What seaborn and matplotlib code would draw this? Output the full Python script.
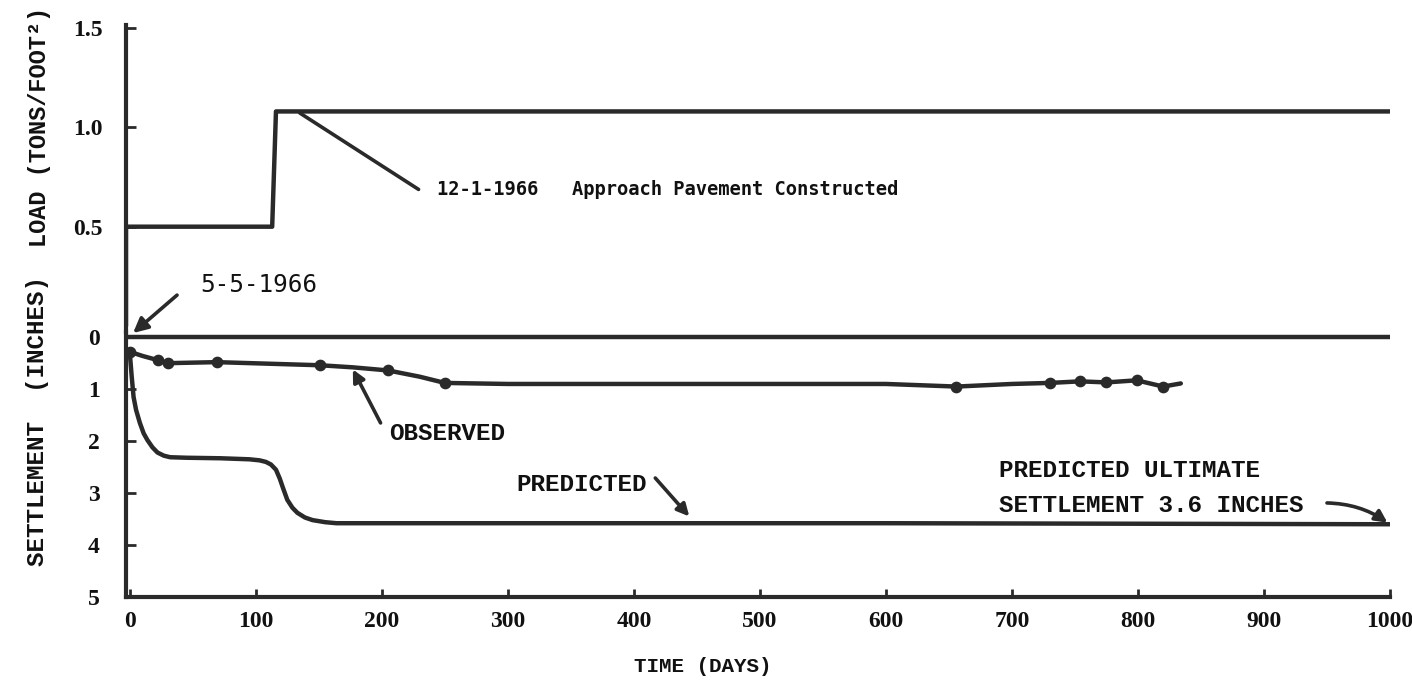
import matplotlib
matplotlib.use("Agg")
import matplotlib.pyplot as plt
import seaborn as sns
import pandas as pd

# Applied load history (tons / ft^2)
load_days = [-3, -3, 113, 116, 1000]
load_tsf = [0.0, 0.5, 0.5, 1.08, 1.08]

# Settlement datum
zero_days = [-3, 1000]
zero_settle = [0.0, 0.0]

# Observed settlement (inches)
obs_days = [0, 10, 22, 30, 69, 151, 177, 205, 230, 250, 300, 450, 600,
            656, 700, 730, 754, 775, 799, 820, 834]
obs_settle = [0.28, 0.36, 0.44, 0.50, 0.48, 0.54, 0.58, 0.64, 0.76, 0.88,
              0.90, 0.90, 0.90, 0.95, 0.90, 0.88, 0.85, 0.87, 0.83, 0.95, 0.89]
# days on which a survey reading was plotted as a dot
reading_days = [0, 22, 30, 69, 151, 205, 250, 656, 730, 754, 775, 799, 820]

# Predicted settlement (inches)
pred_days = [0, 1.5, 3, 5, 8, 11, 14, 18, 22, 27, 32, 45, 72, 95, 103, 108,
             112, 116, 119, 122, 125, 129, 133, 139, 145, 155, 164, 230, 600, 1000]
pred_settle = [0.30, 0.75, 1.15, 1.40, 1.65, 1.85, 1.98, 2.12, 2.22, 2.28,
               2.31, 2.32, 2.33, 2.35, 2.37, 2.40, 2.45, 2.55, 2.72, 2.93,
               3.13, 3.28, 3.38, 3.47, 3.52, 3.56, 3.58, 3.58, 3.58, 3.60]

x_ticks = [0, 100, 200, 300, 400, 500, 600, 700, 800, 900, 1000]
load_ticks = [0.5, 1.0, 1.5]
load_tick_labels = ["0.5", "1.0", "1.5"]
settle_ticks = [0, 1, 2, 3, 4, 5]
settle_tick_labels = ["0", "1", "2", "3", "4", "5"]

INK = "#2a2a2a"
TXT = "#111111"
TYPE = ["Liberation Mono", "DejaVu Sans Mono"]
SERIF = ["Liberation Serif", "DejaVu Serif"]
GOTHIC = ["DejaVu Sans Mono"]

sns.set_theme(style="ticks")
plt.rcParams["font.family"] = ["Liberation Mono", "DejaVu Sans"]

W, H = 1412, 680
fig = plt.figure(figsize=(W / 100, H / 100), dpi=100)


def box(left, top, right, bottom):
    return [left / W, 1 - bottom / H, (right - left) / W, (bottom - top) / H]


ax_load = fig.add_axes(box(126, 25, 1390, 332))
ax_set = fig.add_axes(box(126, 332, 1390, 597))

LW = 3.2
TICK_FS = 17

# ---- load panel ----
sns.lineplot(x=load_days, y=load_tsf, ax=ax_load, sort=False,
             estimator=None, color=INK, lw=LW)
ax_load.set_xlim(-3, 1000)
ax_load.set_ylim(-0.03, 1.515)
ax_load.set_xticks([])
ax_load.set_yticks(load_ticks)
ax_load.set_yticklabels(load_tick_labels, fontfamily=SERIF, fontweight="bold",
                        fontsize=TICK_FS, color=TXT)
for s in ["top", "right", "bottom"]:
    ax_load.spines[s].set_visible(False)
ax_load.spines["left"].set_linewidth(3)
ax_load.spines["left"].set_color(INK)
ax_load.tick_params(axis="y", direction="in", length=7, width=2,
                    color=INK, pad=17)
ax_load.set_xlabel("")
ax_load.set_ylabel("")
ax_load.patch.set_alpha(0)

# ---- settlement panel ----
sns.lineplot(x=zero_days, y=zero_settle, ax=ax_set, sort=False,
             estimator=None, color=INK, lw=LW)
sns.lineplot(x=pred_days, y=pred_settle, ax=ax_set, sort=False,
             estimator=None, color=INK, lw=LW)
sns.lineplot(x=obs_days, y=obs_settle, ax=ax_set, sort=False,
             estimator=None, color=INK, lw=LW)
obs = pd.DataFrame({"day": obs_days, "settle": obs_settle})
readings = obs[obs["day"].isin(reading_days)]
sns.scatterplot(data=readings, x="day", y="settle", ax=ax_set, s=55,
                color=INK, edgecolor=INK, linewidth=1, zorder=4)

ax_set.set_xlim(-3, 1000)
ax_set.set_ylim(5, -0.1)
ax_set.set_xticks(x_ticks)
ax_set.set_xticklabels([str(v) for v in x_ticks], fontfamily=SERIF,
                       fontweight="bold", fontsize=TICK_FS, color=TXT)
ax_set.set_yticks(settle_ticks)
ax_set.set_yticklabels(settle_tick_labels, fontfamily=SERIF, fontweight="bold",
                       fontsize=TICK_FS, color=TXT)
for s in ["top", "right"]:
    ax_set.spines[s].set_visible(False)
for s in ["left", "bottom"]:
    ax_set.spines[s].set_linewidth(3)
    ax_set.spines[s].set_color(INK)
ax_set.tick_params(axis="y", direction="in", length=7, width=2,
                   color=INK, pad=19)
ax_set.tick_params(axis="x", direction="in", length=6, width=2,
                   color=INK, pad=10)
ax_set.set_xlabel("")
ax_set.set_ylabel("")
ax_set.patch.set_alpha(0)

# ---- axis titles ----
fig.text(40 / W, 1 - 127 / H, "LOAD (TONS/FOOT²)", rotation=90,
         ha="center", va="center", fontsize=17, fontweight="bold",
         family=TYPE, color=TXT)
fig.text(38 / W, 1 - 421 / H, "SETTLEMENT  (INCHES)", rotation=90,
         ha="center", va="center", fontsize=17.5, fontweight="bold",
         family=TYPE, color=TXT)
fig.text(703 / W, 1 - 667 / H, "TIME (DAYS)", ha="center", va="center",
         fontsize=15, fontweight="bold", family=TYPE, color=TXT)

# ---- annotations ----
arrow_kw = dict(arrowstyle="-|>", color=INK, lw=2.6, mutation_scale=22,
                shrinkA=0, shrinkB=0)

# start of loading
ax_set.annotate("", xy=(2.6, -0.08), xytext=(37.5, -0.81),
                arrowprops=arrow_kw, annotation_clip=False)
ax_set.text(102, -1.0, "5-5-1966", ha="center", va="center", fontsize=17.5,
            family=GOTHIC, color=TXT, clip_on=False)

# pavement construction
ax_load.annotate("", xy=(231, 0.68), xytext=(133, 1.08),
                 arrowprops=dict(arrowstyle="-", color=INK, lw=2.6),
                 annotation_clip=False)
ax_load.text(244, 0.685, "12-1-1966   Approach Pavement Constructed",
             ha="left", va="center", fontsize=13.5, fontweight="bold",
             family=GOTHIC, color=TXT)

# observed curve label
ax_set.annotate("", xy=(177, 0.62), xytext=(199, 1.65),
                arrowprops=dict(arrow_kw, mutation_scale=18))
ax_set.text(206, 1.85, "OBSERVED", ha="left", va="center", fontsize=17.5,
            fontweight="bold", family=TYPE, color=TXT)

# predicted curve label
ax_set.annotate("", xy=(444, 3.45), xytext=(417, 2.71),
                arrowprops=dict(arrow_kw, mutation_scale=18))
ax_set.text(307, 2.83, "PREDICTED", ha="left", va="center", fontsize=17.5,
            fontweight="bold", family=TYPE, color=TXT)

# ultimate settlement
ax_set.annotate("", xy=(998, 3.57), xytext=(950, 3.19),
                arrowprops=dict(arrow_kw, mutation_scale=18,
                                connectionstyle="arc3,rad=-0.15"),
                annotation_clip=False)
ax_set.text(690, 2.56, "PREDICTED ULTIMATE", ha="left", va="center",
            fontsize=17.5, fontweight="bold", family=TYPE, color=TXT)
ax_set.text(690, 3.23, "SETTLEMENT 3.6 INCHES", ha="left", va="center",
            fontsize=17.5, fontweight="bold", family=TYPE, color=TXT)

fig.savefig("out.png", dpi=100, facecolor="white")
